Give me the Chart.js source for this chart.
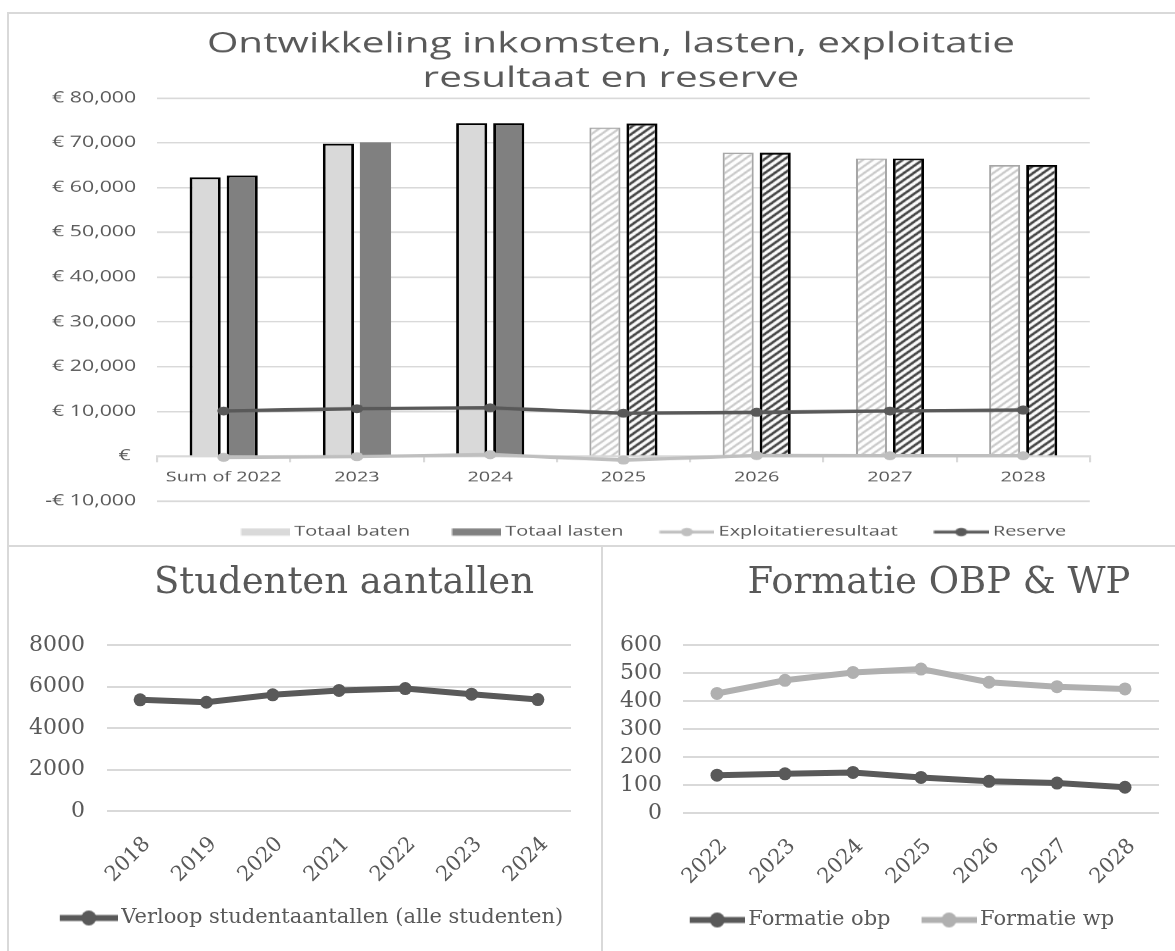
<!DOCTYPE html>
<html>
<head>
<meta charset="utf-8">
<script src="https://cdn.jsdelivr.net/npm/chart.js@4.4.1/dist/chart.umd.min.js"></script>
<style>
  html, body { margin: 0; padding: 0; background: #fff; overflow: hidden; }
  body { width: 1175px; height: 951px; position: relative; }
  .frame { position: absolute; border: 2px solid #d9d9d9; box-sizing: border-box; }
  canvas { position: absolute; }
</style>
</head>
<body>
<div class="frame" style="left:7px;top:12px;width:1200px;height:535px"></div>
<div class="frame" style="left:7px;top:545px;width:596px;height:420px"></div>
<div class="frame" style="left:601px;top:545px;width:600px;height:420px"></div>
<canvas id="chartFinancien" width="822" height="536" style="left:8px;top:13px;width:1167px;height:536px"></canvas>
<canvas id="chartStudenten" width="592" height="405" style="left:8px;top:546px;width:592px;height:405px"></canvas>
<canvas id="chartFormatie" width="571" height="405" style="left:604px;top:546px;width:571px;height:405px"></canvas>

<script>
// --- data ---
const jaren = ['Sum of 2022', '2023', '2024', '2025', '2026', '2027', '2028'];
const totaalBaten = [62300, 69800, 74400, 73400, 67800, 66500, 65000];
const totaalLasten = [62700, 70100, 74400, 74300, 67800, 66500, 65000];
const exploitatie = [-250, -100, 350, -850, 150, 100, 100];
const reserve = [10100, 10600, 10800, 9600, 9800, 10100, 10300];
const euroTicks = ['-€ 10,000', '€ ', '€ 10,000', '€ 20,000', '€ 30,000', '€ 40,000',
  '€ 50,000', '€ 60,000', '€ 70,000', '€ 80,000'];

const studentJaren = ['2018', '2019', '2020', '2021', '2022', '2023', '2024'];
const studentAantallen = [5360, 5240, 5600, 5810, 5900, 5630, 5370];
const studentTicks = ['0', '2000', '4000', '6000', '8000'];

const formatieJaren = ['2022', '2023', '2024', '2025', '2026', '2027', '2028'];
const formatieObp = [135, 140, 145, 127, 113, 107, 92];
const formatieWp = [427, 474, 502, 514, 467, 451, 443];
const formatieTicks = ['0', '100', '200', '300', '400', '500', '600'];

const GRIJS_TEKST = '#595959';
const SANS = "'Open Sans', sans-serif";
const SERIF = "'DejaVu Serif', serif";

// top chart is drawn narrow and stretched wide, like the original picture
const STRETCH = 1167 / 822;

// moves title / legend to a given centre x
const centerBlocks = {
  id: 'centerBlocks',
  afterLayout(chart, args, opts) {
    [[chart.titleBlock, opts.titleX], [chart.legend, opts.legendX]].forEach(([box, cx]) => {
      if (!box || cx == null) return;
      const w = box.right - box.left;
      box.left = cx - w / 2;
      box.right = cx + w / 2;
    });
  }
};

function hatch(color, lw) {
  const p = document.createElement('canvas');
  p.width = 7; p.height = 7;
  const g = p.getContext('2d');
  g.fillStyle = '#ffffff';
  g.fillRect(0, 0, 7, 7);
  g.strokeStyle = color;
  g.lineWidth = lw;
  g.beginPath();
  g.moveTo(0, 7); g.lineTo(7, 0);
  g.moveTo(-1, 1); g.lineTo(1, -1);
  g.moveTo(6, 8); g.lineTo(8, 6);
  g.stroke();
  return g.createPattern(p, 'repeat');
}

// legend symbol: box or line with marker, right-aligned in the image
function legendIcon(kind, color, symW, bw, shift, size) {
  const c = document.createElement('canvas');
  c.width = Math.round(bw + 2 * shift);
  c.height = Math.max(size.h || 0, 2 * (size.r || 0) + 2, 8);
  const g = c.getContext('2d');
  const x0 = c.width - symW;
  const cy = c.height / 2;
  g.fillStyle = color;
  g.strokeStyle = color;
  if (kind === 'box') {
    g.fillRect(x0, cy - size.h / 2, symW, size.h);
  } else {
    g.lineWidth = size.lw;
    g.beginPath(); g.moveTo(x0, cy); g.lineTo(c.width, cy); g.stroke();
    g.beginPath(); g.arc(x0 + symW / 2, cy, size.r, 0, Math.PI * 2); g.fill();
  }
  return c;
}

function iconLabels(icons) {
  return chart => {
    const items = Chart.defaults.plugins.legend.labels.generateLabels(chart);
    items.sort((a, b) => a.datasetIndex - b.datasetIndex);
    items.forEach(it => { it.pointStyle = icons[it.datasetIndex]; });
    return items;
  };
}

// --- Ontwikkeling inkomsten ---
const lichtHatch = hatch('#c4c4c4', 1.6);
const donkerHatch = hatch('#3a3a3a', 2);
const isPrognose = i => i >= 3;

const finIcons = [
  legendIcon('box', '#d9d9d9', 34.5, 36, 4, { h: 7 }),
  legendIcon('box', '#808080', 34.5, 36, 4, { h: 7 }),
  legendIcon('line', '#bfbfbf', 38.7, 36, 4, { lw: 3, r: 4.2 }),
  legendIcon('line', '#595959', 38.7, 36, 4, { lw: 3, r: 4.2 })
];

new Chart(document.getElementById('chartFinancien'), {
  type: 'bar',
  data: {
    labels: jaren,
    datasets: [
      {
        label: 'Totaal baten', data: totaalBaten, order: 1,
        backgroundColor: jaren.map((_, i) => isPrognose(i) ? lichtHatch : '#d9d9d9'),
        borderColor: jaren.map((_, i) => isPrognose(i) ? '#a6a6a6' : '#000000'),
        borderWidth: jaren.map((_, i) => isPrognose(i) ? 1.5 : 2),
        categoryPercentage: 0.556, barPercentage: 0.84
      },
      {
        label: 'Totaal lasten', data: totaalLasten, order: 1,
        backgroundColor: jaren.map((_, i) => isPrognose(i) ? donkerHatch : '#808080'),
        borderColor: '#000000',
        borderWidth: jaren.map((_, i) => i === 1 ? 0 : 2),
        categoryPercentage: 0.556, barPercentage: 0.84
      },
      {
        type: 'line', label: 'Exploitatieresultaat', data: exploitatie, order: 0,
        borderColor: '#bfbfbf', backgroundColor: '#bfbfbf', borderWidth: 3.5,
        pointRadius: 4.5, pointBorderWidth: 0, pointBackgroundColor: '#bfbfbf', tension: 0
      },
      {
        type: 'line', label: 'Reserve', data: reserve, order: 0,
        borderColor: '#595959', backgroundColor: '#595959', borderWidth: 3.5,
        pointRadius: 4.5, pointBorderWidth: 0, pointBackgroundColor: '#595959', tension: 0
      }
    ]
  },
  options: {
    responsive: false,
    animation: false,
    devicePixelRatio: STRETCH,
    layout: { padding: { top: 0, right: 60, bottom: 0, left: 0 } },
    scales: {
      x: {
        position: { y: 0 },
        grid: { drawOnChartArea: false, drawTicks: true, tickLength: 5, color: '#d9d9d9', lineWidth: 1.5 },
        border: { display: true, color: '#d9d9d9', width: 2 },
        ticks: { color: GRIJS_TEKST, font: { family: SANS, size: 14 }, padding: 8 }
      },
      y: {
        min: -10000, max: 80000,
        ticks: {
          stepSize: 10000, autoSkip: false, color: GRIJS_TEKST, font: { family: SANS, size: 15 }, padding: 14.7,
          callback: (v, i) => euroTicks[i]
        },
        grid: { color: '#d9d9d9', lineWidth: 1.5, drawTicks: false },
        border: { display: false },
        afterFit(scale) { scale.width = 105; }
      }
    },
    plugins: {
      title: {
        display: true,
        text: ['Ontwikkeling inkomsten, lasten, exploitatie', 'resultaat en reserve'],
        color: GRIJS_TEKST,
        font: { family: SANS, size: 28.5, weight: 'normal', lineHeight: 1.21 },
        padding: { top: 14, bottom: 2 }
      },
      legend: {
        position: 'bottom',
        labels: {
          usePointStyle: true, pointStyleWidth: 36, padding: 24,
          color: GRIJS_TEKST, font: { family: SANS, size: 14 },
          generateLabels: iconLabels(finIcons)
        }
      },
      tooltip: { enabled: false },
      centerBlocks: { titleX: 424.7, legendX: 452 }
    }
  },
  plugins: [centerBlocks]
});

// --- Studenten aantallen ---
new Chart(document.getElementById('chartStudenten'), {
  type: 'line',
  data: {
    labels: studentJaren,
    datasets: [{
      label: 'Verloop studentaantallen (alle studenten)', data: studentAantallen,
      borderColor: '#595959', backgroundColor: '#595959', borderWidth: 6,
      pointRadius: 6.5, pointBorderWidth: 0, pointBackgroundColor: '#595959', tension: 0
    }]
  },
  options: {
    responsive: false,
    animation: false,
    layout: { padding: { top: 0, right: 29, bottom: 12.5, left: 0 } },
    scales: {
      x: {
        offset: true,
        grid: { display: false },
        border: { display: false },
        ticks: { minRotation: 45, maxRotation: 45, labelOffset: 7, color: GRIJS_TEKST,
          font: { family: SERIF, size: 21 }, padding: 13 },
        afterFit(scale) { scale.height = 72.5; }
      },
      y: {
        min: 0, max: 8000,
        ticks: { stepSize: 2000, autoSkip: false, color: GRIJS_TEKST, font: { family: SERIF, size: 22 }, padding: 22,
          callback: (v, i) => studentTicks[i] },
        grid: { color: '#d9d9d9', lineWidth: 2, drawTicks: false },
        border: { display: false },
        afterFit(scale) { scale.width = 99; }
      }
    },
    plugins: {
      title: {
        display: true, text: 'Studenten aantallen', color: GRIJS_TEKST,
        font: { family: SERIF, size: 37, weight: 'normal', lineHeight: 1.2 },
        padding: { top: 14.8, bottom: 39.8 }
      },
      legend: {
        position: 'bottom',
        labels: {
          usePointStyle: true, pointStyleWidth: 58, padding: 24,
          color: GRIJS_TEKST, font: { family: SERIF, size: 21 },
          generateLabels: iconLabels([legendIcon('line', '#595959', 58, 58, 7, { lw: 6, r: 7.5 })])
        }
      },
      tooltip: { enabled: false },
      centerBlocks: { titleX: 336, legendX: 300 }
    }
  },
  plugins: [centerBlocks]
});

// --- Formatie OBP & WP ---
new Chart(document.getElementById('chartFormatie'), {
  type: 'line',
  data: {
    labels: formatieJaren,
    datasets: [
      {
        label: 'Formatie obp', data: formatieObp,
        borderColor: '#595959', backgroundColor: '#595959', borderWidth: 6,
        pointRadius: 6.5, pointBorderWidth: 0, pointBackgroundColor: '#595959', tension: 0
      },
      {
        label: 'Formatie wp', data: formatieWp,
        borderColor: '#b0b0b0', backgroundColor: '#b0b0b0', borderWidth: 6,
        pointRadius: 6.5, pointBorderWidth: 0, pointBackgroundColor: '#b0b0b0', tension: 0
      }
    ]
  },
  options: {
    responsive: false,
    animation: false,
    layout: { padding: { top: 0, right: 16, bottom: 10.5, left: 0 } },
    scales: {
      x: {
        offset: true,
        grid: { display: false },
        border: { display: false },
        ticks: { minRotation: 45, maxRotation: 45, labelOffset: 7, color: GRIJS_TEKST,
          font: { family: SERIF, size: 21 }, padding: 13 },
        afterFit(scale) { scale.height = 72.5; }
      },
      y: {
        min: 0, max: 600,
        ticks: { stepSize: 100, autoSkip: false, maxTicksLimit: 20, color: GRIJS_TEKST,
          font: { family: SERIF, size: 22, lineHeight: 1 }, padding: 21,
          callback: (v, i) => formatieTicks[i] },
        grid: { color: '#d9d9d9', lineWidth: 2, drawTicks: false },
        border: { display: false },
        afterFit(scale) { scale.width = 79; }
      }
    },
    plugins: {
      title: {
        display: true, text: 'Formatie OBP & WP', color: GRIJS_TEKST,
        font: { family: SERIF, size: 37, weight: 'normal', lineHeight: 1.2 },
        padding: { top: 14.8, bottom: 39.8 }
      },
      legend: {
        position: 'bottom',
        labels: {
          usePointStyle: true, pointStyleWidth: 55, padding: 24,
          color: GRIJS_TEKST, font: { family: SERIF, size: 21 },
          generateLabels: iconLabels([
            legendIcon('line', '#595959', 55, 55, 7, { lw: 6, r: 7.5 }),
            legendIcon('line', '#b0b0b0', 55, 55, 7, { lw: 6, r: 7.5 })
          ])
        }
      },
      tooltip: { enabled: false },
      centerBlocks: { titleX: 335, legendX: 294.5 }
    }
  },
  plugins: [centerBlocks]
});
</script>
</body>
</html>
